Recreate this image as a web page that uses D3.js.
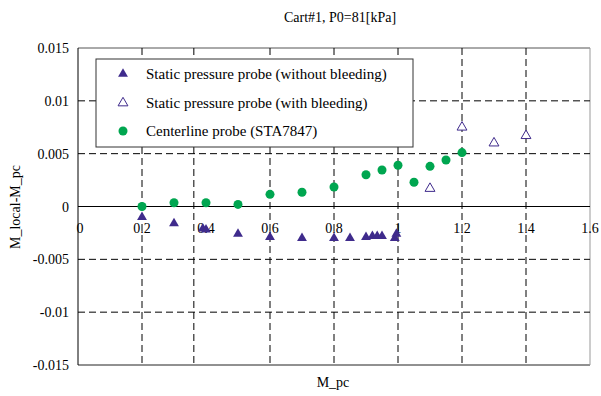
<!DOCTYPE html>
<html>
<head>
<meta charset="utf-8">
<script src="https://cdn.jsdelivr.net/npm/d3@7"></script>
<style>
  body { margin: 0; background: #fff; }
  svg text { font-family: "Times New Roman", "Liberation Serif", Tinos, "DejaVu Serif", serif; fill: #000; }
</style>
</head>
<body>
<svg width="601" height="396" font-family="'Times New Roman', 'Liberation Serif', 'DejaVu Serif', serif"></svg>
<script>
// series: static probe without bleeding
const noBleedX = [0.2, 0.3, 0.39, 0.4, 0.5, 0.6, 0.7, 0.8, 0.85, 0.9, 0.92, 0.935, 0.95, 0.99, 0.995]
const noBleedY = [-0.0010, -0.0016, -0.0021, -0.0022, -0.0026, -0.0029, -0.0030, -0.0030, -0.0030, -0.0029, -0.0028, -0.0028, -0.0028, -0.0030, -0.0026]

// series: static probe with bleeding
const bleedX = [1.1, 1.2, 1.3, 1.4]
const bleedY = [0.0017, 0.0075, 0.0060, 0.0067]

// series: centerline probe
const centerX = [0.2, 0.3, 0.4, 0.5, 0.6, 0.7, 0.8, 0.9, 0.95, 1.0, 1.05, 1.1, 1.15, 1.2]
const centerY = [0.0000, 0.00035, 0.00035, 0.0002, 0.00115, 0.00135, 0.00185, 0.0030, 0.00345, 0.0039, 0.0023, 0.0038, 0.0044, 0.0051]

const xTicks = [0, 0.2, 0.4, 0.6, 0.8, 1, 1.2, 1.4, 1.6]
const yTicks = [0.015, 0.01, 0.005, 0, -0.005, -0.01, -0.015]
// vertical dashed gridlines as drawn in the original (the 0.4 one sits a little left)
const xGrid = [0.2, 0.362, 0.6, 0.8, 1.0, 1.2, 1.4]
const yGrid = [0.01, 0.005, -0.005, -0.01]

const legendLabels = [
    "Static pressure probe (without bleeding)",
    "Static pressure probe (with bleeding)",
    "Centerline probe (STA7847)"
]

const purple = "#3f2b8c"
const green = "#00a650"

document.addEventListener('DOMContentLoaded', () => {
    drawChart()
})

function drawChart() {
    const svg = d3.select("svg")
    const left = 78, right = 590, top = 48, bottom = 365

    const x = d3.scaleLinear().domain([0, 1.6]).range([left, right])
    const y = d3.scaleLinear().domain([-0.015, 0.015]).range([bottom, top])

    // frame
    svg.append("line").attr("x1", left).attr("x2", right).attr("y1", top).attr("y2", top)
        .attr("stroke", "#555")
    svg.append("line").attr("x1", left).attr("x2", right).attr("y1", bottom).attr("y2", bottom)
        .attr("stroke", "#222")
    svg.append("line").attr("x1", right).attr("x2", right).attr("y1", top).attr("y2", bottom)
        .attr("stroke", "#999")

    // gridlines
    svg.append("g").selectAll("line").data(yGrid).enter().append("line")
        .attr("x1", left).attr("x2", right)
        .attr("y1", d => y(d)).attr("y2", d => y(d))
        .attr("stroke", "#000").attr("stroke-dasharray", "7,4")
    svg.append("g").selectAll("line").data(xGrid).enter().append("line")
        .attr("x1", d => x(d)).attr("x2", d => x(d))
        .attr("y1", top).attr("y2", bottom)
        .attr("stroke", "#000").attr("stroke-dasharray", "7,4")

    // left axis and zero line
    svg.append("line").attr("x1", left).attr("x2", left).attr("y1", top).attr("y2", bottom)
        .attr("stroke", "#000")
    svg.append("line").attr("x1", left).attr("x2", right).attr("y1", y(0)).attr("y2", y(0))
        .attr("stroke", "#000")

    // y tick labels
    svg.append("g").selectAll("text").data(yTicks).enter().append("text")
        .attr("x", left - 9).attr("y", d => y(d) + 5)
        .attr("text-anchor", "end").style("font-size", "14px")
        .text(d => d)

    // x tick labels, sitting under the zero line
    svg.append("g").selectAll("text").data(xTicks).enter().append("text")
        .attr("x", d => x(d) + (d === 0 ? 2 : 0)).attr("y", y(0) + 26)
        .attr("text-anchor", "middle").style("font-size", "14px")
        .text(d => d)

    const tri = d3.symbol().type(d3.symbolTriangle).size(42)

    // triangles without bleeding
    svg.append("g").selectAll("path").data(noBleedX).enter().append("path")
        .attr("d", tri)
        .attr("transform", (d, i) => "translate(" + x(d) + "," + y(noBleedY[i]) + ")")
        .attr("fill", purple)

    // triangles with bleeding
    svg.append("g").selectAll("path").data(bleedX).enter().append("path")
        .attr("d", tri)
        .attr("transform", (d, i) => "translate(" + x(d) + "," + y(bleedY[i]) + ")")
        .attr("fill", "#fff").attr("stroke", purple).attr("stroke-width", 1)

    // centerline circles
    svg.append("g").selectAll("circle").data(centerX).enter().append("circle")
        .attr("cx", d => x(d)).attr("cy", (d, i) => y(centerY[i]))
        .attr("r", 4.5).attr("fill", green)

    // legend
    const lg = svg.append("g")
    lg.append("rect").attr("x", 96).attr("y", 59).attr("width", 317).attr("height", 88)
        .attr("fill", "#fff").attr("stroke", "#333")
    const rows = [74, 103, 131]
    lg.append("path").attr("d", tri).attr("transform", "translate(123," + rows[0] + ")").attr("fill", purple)
    lg.append("path").attr("d", tri).attr("transform", "translate(123," + rows[1] + ")")
        .attr("fill", "#fff").attr("stroke", purple)
    lg.append("circle").attr("cx", 123).attr("cy", rows[2]).attr("r", 4.5).attr("fill", green)
    lg.selectAll("text").data(legendLabels).enter().append("text")
        .attr("x", 146).attr("y", (d, i) => rows[i] + 5)
        .style("font-size", "15px")
        .text(d => d)

    // titles
    svg.append("text").attr("x", 340).attr("y", 22).attr("text-anchor", "middle")
        .style("font-size", "14px").text("Cart#1, P0=81[kPa]")
    svg.append("text").attr("x", 333).attr("y", 387).attr("text-anchor", "middle")
        .style("font-size", "14px").text("M_pc")
    svg.append("text").attr("transform", "translate(20,207) rotate(-90)")
        .attr("text-anchor", "middle").style("font-size", "14px").text("M_local-M_pc")
}
</script>
</body>
</html>
